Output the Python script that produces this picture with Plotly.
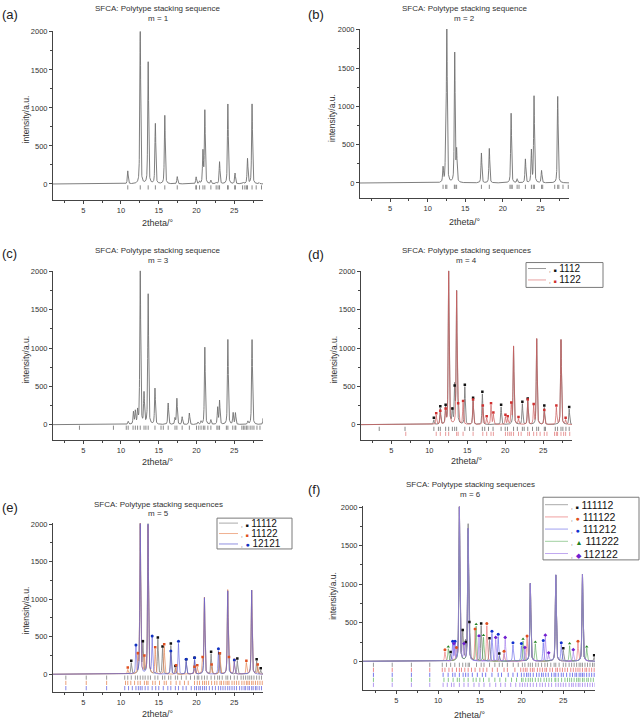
import numpy as np
import plotly.graph_objects as go

# ---------------- data ----------------
X_MIN, X_MAX = 1.0, 28.8

# (a) m = 1
A_POS = [10.9, 12.55, 13.6, 14.55, 15.8, 17.45, 19.95, 20.4, 20.85, 21.1, 21.9, 22.6, 23.05, 24.15, 25.1, 26.2, 26.75, 27.35, 28.3]
A_HGT = [170, 2000, 1600, 790, 900, 95, 90, 30, 420, 960, 45, 20, 290, 1050, 140, 20, 330, 1050, 15]
A_TICKS = [10.9, 12.55, 13.6, 14.55, 15.8, 17.45, 19.9, 20.0, 20.4, 20.85, 21.1, 21.9, 22.6, 22.85, 23.05, 24.1, 24.2, 25.05, 25.15, 26.1, 26.4, 26.6, 26.75, 27.35, 27.9, 28.6]

# (b) m = 2
B_POS = [12.05, 12.4, 12.55, 13.6, 13.85, 17.15, 18.2, 21.1, 21.9, 23.0, 23.8, 24.15, 25.15, 27.3]
B_HGT = [190, 420, 2000, 1690, 400, 390, 450, 910, 50, 310, 420, 1130, 160, 1130]
B_TICKS = [12.05, 12.4, 12.55, 13.55, 13.65, 13.85, 17.15, 18.2, 20.95, 21.1, 21.25, 21.9, 22.15, 23.0, 23.8, 24.05, 24.2, 25.15, 25.3, 26.9, 27.3, 27.45, 28.0, 28.7]

# (c) m = 3
C_POS = [10.95, 11.65, 11.9, 12.2, 12.55, 13.05, 13.6, 14.5, 16.25, 17.15, 17.4, 18.1, 19.05, 20.2, 20.6, 21.1, 21.9, 22.8, 23.05, 24.15, 24.85, 25.15, 26.8, 27.35, 28.85]
C_HGT = [40, 160, 170, 170, 2000, 400, 1700, 470, 280, 80, 340, 100, 150, 30, 40, 1010, 60, 220, 310, 1110, 150, 150, 40, 1110, 120]
C_TICKS = [4.5, 9.0, 10.7, 10.95, 11.6, 11.9, 12.2, 12.55, 13.05, 13.3, 13.6, 14.5, 15.3, 15.6, 16.25, 17.15, 17.4, 18.1, 19.05, 20.0, 20.3, 20.6, 20.9, 21.1, 21.5, 21.9, 22.7, 22.85, 23.05, 23.95, 24.15, 24.8, 25.1, 25.2, 26.0, 26.2, 26.4, 26.6, 26.8, 27.1, 27.35, 27.6, 28.0, 28.4]

# (d) m = 4
D_NAMES = ["1112", "1122"]
D1_POS = [10.6, 11.45, 12.15, 12.55, 13.04, 13.34, 13.6, 14.68, 15.77, 16.99, 19.46, 21.1, 22.26, 22.97, 24.15, 25.15, 27.35, 28.43]
D1_HGT = [60, 210, 230, 2000, 180, 480, 1730, 490, 320, 400, 230, 1020, 270, 310, 1120, 220, 1110, 200]
D2_POS = [10.91, 11.45, 12.15, 12.55, 13.6, 13.8, 14.45, 15.77, 17.05, 17.56, 18.13, 18.44, 20.03, 20.33, 20.8, 21.1, 21.75, 22.97, 23.75, 24.15, 25.15, 26.74, 27.35, 27.96]
D2_HGT = [120, 150, 180, 2000, 1730, 250, 280, 300, 220, 80, 250, 130, 100, 80, 260, 1020, 70, 300, 240, 1120, 160, 220, 1110, 60]
D1_TICKS = [3.4, 6.8, 10.6, 11.2, 11.45, 12.15, 12.55, 13.04, 13.34, 13.6, 14.68, 15.3, 15.77, 16.99, 17.3, 17.8, 18.4, 19.46, 20.0, 20.3, 21.1, 21.6, 22.26, 22.5, 22.97, 23.6, 24.15, 24.4, 25.15, 25.3, 26.6, 26.9, 27.35, 27.6, 28.0, 28.43]
D2_TICKS = [6.9, 10.91, 11.45, 12.15, 12.55, 13.6, 13.8, 14.45, 15.77, 17.05, 17.56, 18.13, 18.44, 20.03, 20.33, 20.6, 20.8, 21.1, 21.75, 22.1, 22.97, 23.2, 23.75, 24.15, 24.6, 25.15, 25.5, 26.5, 26.74, 26.9, 27.35, 27.7, 27.96, 28.5]

# (e) m = 5
E_NAMES = ["11112", "11122", "12121"]
E1_POS = [11.36, 12.55, 12.9, 13.58, 14.88, 15.5, 16.6, 17.2, 18.63, 19.73, 21.05, 21.93, 23.05, 24.13, 25.4, 27.3, 27.96, 28.5]
E1_HGT = [150, 2000, 410, 2000, 460, 340, 380, 80, 170, 190, 1020, 270, 250, 1110, 180, 1120, 170, 50]
E2_POS = [10.9, 12.24, 12.55, 13.1, 13.58, 14.53, 15.72, 17.3, 19.73, 20.1, 20.8, 21.05, 22.0, 23.1, 24.13, 24.3, 25.0, 26.6, 27.3, 28.1]
E2_HGT = [60, 250, 2000, 220, 1980, 330, 370, 90, 70, 90, 200, 1020, 100, 250, 1110, 200, 160, 150, 1120, 100]
E3_POS = [11.98, 12.55, 13.58, 14.13, 16.6, 17.61, 18.63, 19.75, 21.05, 22.9, 24.13, 25.0, 27.3]
E3_HGT = [360, 2000, 1990, 480, 280, 410, 170, 190, 1020, 310, 1110, 160, 1120]
E1_TICKS = [2.7, 5.4, 8.1, 10.5, 10.9, 11.36, 11.9, 12.2, 12.55, 12.9, 13.2, 13.58, 13.9, 14.5, 14.88, 15.5, 15.8, 16.3, 16.6, 17.2, 17.5, 18.0, 18.63, 19.2, 19.73, 20.1, 20.3, 20.7, 21.05, 21.4, 21.93, 22.4, 22.8, 23.05, 23.4, 23.9, 24.13, 24.5, 25.0, 25.4, 25.9, 26.2, 26.5, 26.8, 27.05, 27.3, 27.6, 27.96, 28.3, 28.6]
E2_TICKS = [2.7, 5.4, 8.1, 10.6, 10.9, 11.3, 11.8, 12.24, 12.55, 13.1, 13.4, 13.58, 14.2, 14.53, 15.1, 15.72, 16.0, 16.6, 17.3, 17.8, 18.4, 18.9, 19.73, 20.1, 20.4, 20.8, 21.05, 21.3, 21.6, 22.0, 22.4, 22.7, 23.1, 23.3, 23.6, 23.9, 24.13, 24.3, 24.7, 25.0, 25.3, 25.6, 26.0, 26.3, 26.6, 26.8, 27.0, 27.3, 27.5, 27.8, 28.1, 28.4, 28.7]
E3_TICKS = [2.7, 5.4, 8.1, 10.5, 11.0, 11.5, 11.98, 12.3, 12.55, 12.8, 13.2, 13.58, 14.13, 14.6, 15.0, 15.6, 16.2, 16.6, 17.2, 17.61, 18.2, 18.63, 19.3, 19.75, 20.0, 20.3, 20.5, 20.8, 21.05, 21.3, 21.7, 22.1, 22.5, 22.9, 23.2, 23.5, 23.8, 24.13, 24.4, 24.7, 25.0, 25.3, 25.7, 26.0, 26.3, 26.5, 26.8, 27.0, 27.3, 27.5, 27.8, 28.0, 28.3, 28.6]

# (f) m = 6
F_NAMES = ["111112", "111122", "111212", "111222", "112122"]
F1_POS = [11.5, 12.55, 12.95, 13.31, 13.6, 13.75, 15.16, 16.16, 17.33, 21.05, 24.1, 25.0, 27.3, 28.7]
F1_HGT = [90, 2000, 375, 220, 1720, 480, 460, 270, 70, 1010, 1120, 140, 1130, 50]
F2_POS = [10.82, 12.2, 12.55, 13.6, 14.43, 15.84, 17.9, 20.66, 21.05, 24.1, 26.76, 27.3]
F2_HGT = [120, 150, 2000, 1720, 390, 460, 100, 300, 1010, 1120, 230, 1130]
F3_POS = [11.75, 12.03, 12.55, 13.6, 16.45, 17.2, 18.97, 19.98, 21.05, 22.6, 24.1, 24.76, 27.3]
F3_HGT = [230, 230, 2000, 1720, 360, 320, 210, 200, 1010, 240, 1120, 210, 1130]
F4_POS = [11.22, 12.55, 13.6, 14.56, 15.44, 20.18, 21.05, 21.65, 24.1, 25.76, 27.3, 27.81]
F4_HGT = [160, 2000, 1720, 450, 310, 260, 1010, 220, 1120, 200, 1130, 160]
F5_POS = [11.9, 12.55, 13.1, 13.6, 14.9, 16.9, 18.04, 20.4, 21.05, 22.85, 23.25, 24.1, 26.2, 27.3]
F5_HGT = [200, 2000, 200, 1720, 300, 280, 280, 150, 1010, 310, 80, 1120, 120, 1130]
F1_TICKS = [2.25, 4.5, 6.8, 9.0, 10.5, 11.0, 11.5, 12.0, 12.55, 12.95, 13.31, 13.6, 13.75, 14.6, 15.16, 15.5, 16.16, 16.8, 17.33, 17.7, 18.3, 19.0, 19.6, 20.1, 20.4, 20.8, 21.05, 21.3, 21.7, 22.0, 22.4, 22.8, 23.1, 23.5, 23.9, 24.1, 24.5, 25.0, 25.3, 25.7, 26.0, 26.3, 26.6, 26.9, 27.1, 27.3, 27.6, 27.9, 28.2, 28.5, 28.7]
F2_TICKS = [2.25, 4.5, 6.8, 9.0, 10.5, 10.82, 11.3, 11.7, 12.2, 12.55, 12.8, 13.2, 13.6, 14.0, 14.43, 15.0, 15.4, 15.84, 16.5, 17.1, 17.9, 18.3, 19.2, 19.9, 20.2, 20.45, 20.66, 21.05, 21.3, 21.5, 21.9, 22.2, 22.5, 22.8, 23.0, 23.4, 23.7, 24.1, 24.3, 24.6, 24.9, 25.2, 25.5, 25.9, 26.2, 26.5, 26.76, 27.0, 27.3, 27.6, 27.8, 28.1, 28.4, 28.7]
F3_TICKS = [2.25, 4.5, 6.8, 9.0, 10.6, 11.2, 11.75, 12.03, 12.55, 13.0, 13.3, 13.6, 14.1, 14.7, 15.3, 15.7, 16.45, 17.2, 17.6, 18.4, 18.97, 19.5, 19.98, 20.3, 20.6, 20.8, 21.05, 21.4, 21.8, 22.1, 22.4, 22.6, 22.9, 23.2, 23.6, 23.9, 24.1, 24.4, 24.76, 25.0, 25.4, 25.8, 26.1, 26.4, 26.6, 26.9, 27.1, 27.3, 27.5, 27.8, 28.1, 28.4, 28.7]
F4_TICKS = [2.25, 4.5, 6.8, 9.0, 10.7, 11.22, 11.8, 12.3, 12.55, 13.1, 13.6, 14.2, 14.56, 15.0, 15.44, 16.1, 16.8, 17.4, 18.1, 18.8, 19.4, 20.0, 20.18, 20.5, 20.8, 21.05, 21.3, 21.65, 22.0, 22.3, 22.7, 23.0, 23.3, 23.6, 24.0, 24.1, 24.4, 24.8, 25.2, 25.5, 25.76, 26.0, 26.3, 26.6, 26.8, 27.0, 27.3, 27.5, 27.81, 28.0, 28.3, 28.6]
F5_TICKS = [2.25, 4.5, 6.8, 9.0, 10.6, 11.1, 11.6, 11.9, 12.55, 13.1, 13.6, 14.3, 14.9, 15.5, 16.2, 16.9, 17.5, 18.04, 18.7, 19.3, 19.8, 20.1, 20.4, 20.7, 21.05, 21.4, 21.8, 22.2, 22.5, 22.85, 23.25, 23.6, 24.1, 24.4, 24.7, 25.0, 25.3, 25.7, 26.0, 26.2, 26.5, 26.8, 27.0, 27.3, 27.6, 27.9, 28.2, 28.5, 28.8]

# ---------------- rendering helpers ----------------
W, H = 640, 720
FONT = "Liberation Sans, Arial, sans-serif"
grid = np.arange(X_MIN, X_MAX + 1e-6, 0.01)


def profile(pos, hts, fwhm=0.14, eta=0.5):
    y = np.zeros_like(grid)
    g = fwhm / 2.0
    sig = fwhm / 2.3548
    for p, h in zip(pos, hts):
        d = grid - p
        y += h * (eta * g * g / (d * d + g * g) + (1 - eta) * np.exp(-0.5 * (d / sig) ** 2))
    return y


def px(x):
    return x / W


def py(y):
    return 1 - y / H


# panel geometry in pixels: left, right, pixel of y=0, pixel of y=2000, ymin
PANELS = [
    dict(lab="(a)", left=53, right=263, y0=181, y2k=28, ymin=-210, t1=4.5, t2=15, xt=220, yt=26, labx=0, laby=11,
         title="SFCA: Polytype stacking sequence", m="m = 1"),
    dict(lab="(b)", left=360, right=569, y0=180, y2k=26, ymin=-195, t1=4.5, t2=15, xt=219, yt=332, labx=306, laby=11,
         title="SFCA: Polytype stacking sequence", m="m = 2"),
    dict(lab="(c)", left=53, right=263, y0=423, y2k=269, ymin=-195, t1=248, t2=258, xt=461, yt=26, labx=0, laby=251,
         title="SFCA: Polytype stacking sequence", m="m = 3"),
    dict(lab="(d)", left=361, right=572, y0=423, y2k=269, ymin=-195, t1=248, t2=258, xt=460, yt=334, labx=306, laby=252,
         title="SFCA: Polytype stacking sequences", m="m = 4"),
    dict(lab="(e)", left=53, right=263, y0=674, y2k=523, ymin=-240, t1=503, t2=512, xt=714, yt=26, labx=0, laby=506,
         title="SFCA: Polytype stacking sequences", m="m = 5"),
    dict(lab="(f)", left=363, right=595, y0=661, y2k=506, ymin=-375, t1=483, t2=493, xt=715, yt=333, labx=306, laby=488,
         title="SFCA: Polytype stacking sequences", m="m = 6"),
]
YMAX = 2010

fig = go.Figure()
layout = dict(width=W, height=H, margin=dict(l=0, r=0, t=0, b=0), paper_bgcolor="white",
              plot_bgcolor="white", showlegend=False, font=dict(family=FONT, color="#333"))
annotations = []
shapes = []

for i, p in enumerate(PANELS):
    n = "" if i == 0 else str(i + 1)
    s = (p["y0"] - p["y2k"]) / 2000.0
    top = p["y0"] - YMAX * s
    bot = p["y0"] - p["ymin"] * s
    axis_common = dict(showline=True, linecolor="#444", linewidth=1, showgrid=False, zeroline=False,
                       ticks="outside", ticklen=3, tickwidth=1, tickcolor="#444",
                       tickfont=dict(size=7.5, color="#333", family=FONT))
    layout["xaxis" + n] = dict(domain=[px(p["left"]), px(p["right"])], range=[X_MIN, X_MAX],
                               anchor="y" + n, tickvals=[5, 10, 15, 20, 25],
                               minor=dict(tickvals=[2.5, 7.5, 12.5, 17.5, 22.5, 27.5], ticks="outside",
                                          ticklen=2, tickcolor="#444"),
                               **axis_common)
    layout["yaxis" + n] = dict(domain=[py(bot), py(top)], range=[p["ymin"], YMAX],
                               anchor="x" + n, tickvals=[0, 500, 1000, 1500, 2000],
                               minor=dict(tickvals=[250, 750, 1250, 1750], ticks="outside",
                                          ticklen=2, tickcolor="#444"),
                               **axis_common)
    cx = (p["left"] + p["right"]) / 2
    if i == 5:
        cx = 470
    annotations += [
        dict(text=p["title"], x=px(cx), y=py(p["t1"]), xref="paper", yref="paper", showarrow=False,
             xanchor="center", yanchor="middle", font=dict(size=8, color="#333")),
        dict(text=p["m"], x=px(cx), y=py(p["t2"]), xref="paper", yref="paper", showarrow=False,
             xanchor="center", yanchor="middle", font=dict(size=8, color="#333")),
        dict(text="2theta/°", x=px(cx), y=py(p["xt"]), xref="paper", yref="paper",
             showarrow=False, xanchor="center", yanchor="middle", font=dict(size=9, color="#333")),
        dict(text="intensity/a.u.", x=px(p["yt"]), y=py(p["y0"] - 1000 * s * 0.85), xref="paper", yref="paper",
             showarrow=False, xanchor="center", yanchor="middle", textangle=-90,
             font=dict(size=8.5, color="#333")),
        dict(text=p["lab"], x=px(p["labx"]), y=py(p["laby"]), xref="paper", yref="paper", showarrow=False,
             xanchor="left", yanchor="middle", font=dict(size=13, color="#222")),
    ]


def add_curve(k, pos, hts, color, width=0.9):
    n = "" if k == 0 else str(k + 1)
    fig.add_trace(go.Scatter(x=grid, y=profile(pos, hts), mode="lines", line=dict(color=color, width=width),
                             xaxis="x" + n, yaxis="y" + n, hoverinfo="skip"))


def add_ticks(k, ticks, yrow, color):
    n = "" if k == 0 else str(k + 1)
    fig.add_trace(go.Scatter(x=ticks, y=[yrow] * len(ticks), mode="markers",
                             marker=dict(symbol="line-ns-open", size=3, color=color,
                                         line=dict(color=color, width=1)),
                             xaxis="x" + n, yaxis="y" + n, hoverinfo="skip"))


def add_dots(k, pos, hts, color, symbol, size=2.5):
    n = "" if k == 0 else str(k + 1)
    sel = [(a, b + 30) for a, b in zip(pos, hts) if b < 600]
    fig.add_trace(go.Scatter(x=[a for a, _ in sel], y=[b for _, b in sel], mode="markers",
                             marker=dict(symbol=symbol, size=size, color=color, line=dict(width=0)),
                             xaxis="x" + n, yaxis="y" + n, hoverinfo="skip"))


# (a)-(c)
add_curve(0, A_POS, A_HGT, "#707070")
add_ticks(0, A_TICKS, -45, "#8a8a8a")
add_curve(1, B_POS, B_HGT, "#707070")
add_ticks(1, B_TICKS, -50, "#8a8a8a")
add_curve(2, C_POS, C_HGT, "#707070")
add_ticks(2, C_TICKS, -40, "#8a8a8a")

# (d)
D_LINE = ["#7a7a7a", "rgba(205,95,95,0.8)"]
D_TICK = ["#888", "#e89a9a"]
D_DOT = ["#111", "#d03030"]
add_curve(3, D1_POS, D1_HGT, D_LINE[0])
add_curve(3, D2_POS, D2_HGT, D_LINE[1])
add_ticks(3, D1_TICKS, -55, D_TICK[0])
add_ticks(3, D2_TICKS, -120, D_TICK[1])
add_dots(3, D1_POS, D1_HGT, D_DOT[0], "square")
add_dots(3, D2_POS, D2_HGT, D_DOT[1], "square")

# (e)
E_LINE = ["#8a8a8a", "rgba(230,140,90,0.8)", "rgba(95,95,220,0.7)"]
E_TICK = ["#999", "#eba07a", "#8585e6"]
E_DOT = ["#111", "#e05020", "#1030c0"]
E_SYM = ["square", "square", "circle"]
for j, (ps, hs, tk, yr) in enumerate([(E1_POS, E1_HGT, E1_TICKS, -45), (E2_POS, E2_HGT, E2_TICKS, -115),
                                      (E3_POS, E3_HGT, E3_TICKS, -185)]):
    add_curve(4, ps, hs, E_LINE[j])
    add_ticks(4, tk, yr, E_TICK[j])
for j, (ps, hs) in enumerate([(E1_POS, E1_HGT), (E2_POS, E2_HGT), (E3_POS, E3_HGT)]):
    add_dots(4, ps, hs, E_DOT[j], E_SYM[j], 2.5 if j < 2 else 3)

# (f)
F_LINE = ["#8a8a8a", "rgba(235,110,110,0.7)", "rgba(100,100,235,0.7)", "rgba(90,170,90,0.7)",
          "rgba(160,120,235,0.7)"]
F_TICK = ["#999", "#ec8a8a", "#7a7aec", "#88c888", "#b49af0"]
F_DOT = ["#111", "#e05020", "#1030d0", "#208020", "#7020d0"]
F_SYM = ["square", "circle", "circle", "triangle-up", "diamond"]
F_SETS = [(F1_POS, F1_HGT, F1_TICKS), (F2_POS, F2_HGT, F2_TICKS), (F3_POS, F3_HGT, F3_TICKS),
          (F4_POS, F4_HGT, F4_TICKS), (F5_POS, F5_HGT, F5_TICKS)]
F_ROWS = [-45, -110, -175, -240, -305]
for j, (ps, hs, tk) in enumerate(F_SETS):
    add_curve(5, ps, hs, F_LINE[j])
    add_ticks(5, tk, F_ROWS[j], F_TICK[j])
for j, (ps, hs, tk) in enumerate(F_SETS):
    add_dots(5, ps, hs, F_DOT[j], F_SYM[j], 2.5 if j == 0 else 3)

# ---------------- manual legends ----------------
GLYPH = {"square": "■", "circle": "●", "triangle-up": "▲", "diamond": "◆"}


def legend(box, rows, names, lcolors, dcolors, syms, line_x, fsize, gsizes):
    x0, y0, x1, y1 = box
    shapes.append(dict(type="rect", xref="paper", yref="paper", x0=px(x0), x1=px(x1), y0=py(y1), y1=py(y0),
                       line=dict(color="#7a7a7a", width=1), fillcolor="white", layer="above"))
    for yy, nm, lc, dc, sy, gs in zip(rows, names, lcolors, dcolors, syms, gsizes):
        shapes.append(dict(type="line", xref="paper", yref="paper", x0=px(line_x[0]), x1=px(line_x[1]),
                           y0=py(yy), y1=py(yy), line=dict(color=lc, width=1), layer="above"))
        txt = (f"<span style='font-size:6px'>,</span> <span style='color:{dc};font-size:{gs}px'>"
               f"{GLYPH[sy]}</span> {nm}")
        annotations.append(dict(text=txt, x=px(line_x[1] + 1), y=py(yy), xref="paper", yref="paper",
                                showarrow=False, xanchor="left", yanchor="middle",
                                font=dict(size=fsize, color="#111")))


legend((526, 260, 603, 285), [266, 277.5], D_NAMES, ["#999", "#e8a0a0"], D_DOT, ["square", "square"],
       (528, 546), 10, [5, 5])
legend((217, 517, 292, 548), [522, 532.5, 543], E_NAMES, ["#aaa", "#f0b090", "#9090e0"], E_DOT, E_SYM,
       (219, 238), 10, [5, 5, 7])
legend((543, 496, 639, 559), [503.5, 515.8, 528, 540.3, 552.6], F_NAMES,
       ["#aaa", "#f0a0a0", "#a0a0f0", "#a0d0a0", "#c0a8f0"], F_DOT, F_SYM, (545, 568), 10.5,
       [5, 7, 7, 7, 7])

layout["annotations"] = annotations
layout["shapes"] = shapes
fig.update_layout(**layout)
fig.write_html("out.html")
